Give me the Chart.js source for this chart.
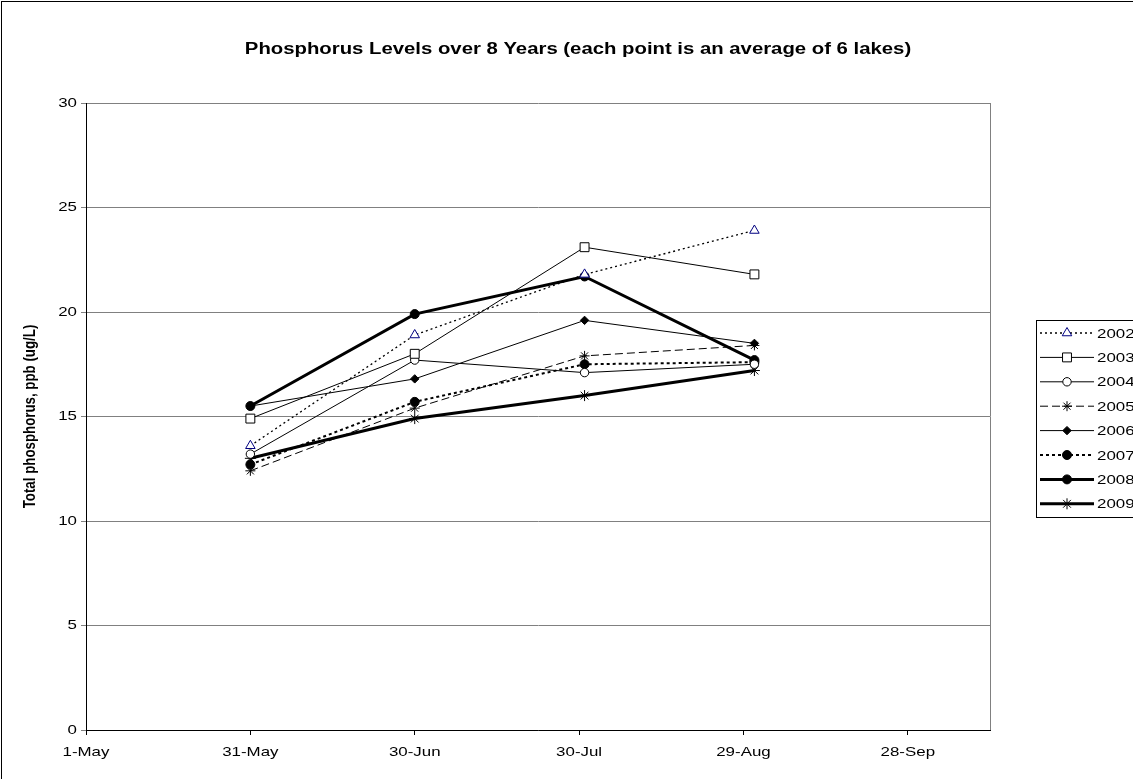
<!DOCTYPE html>
<html>
<head>
<meta charset="utf-8">
<script src="https://cdn.jsdelivr.net/npm/chart.js@4.4.1/dist/chart.umd.min.js"></script>
<style>
  html, body { margin: 0; padding: 0; background: #fff; overflow: hidden; }
  #wrap { position: absolute; left: 0; top: 0; width: 1133px; height: 779px; }
</style>
</head>
<body>
<div id="wrap"><canvas id="c" width="1133" height="779"></canvas></div>
<script>
// Text
const chartTitle = 'Phosphorus Levels over 8 Years (each point is an average of 6 lakes)';
const yAxisTitle = 'Total phosphorus, ppb (ug/L)';

// Date axis: days counted from 1 May
const tickDays = [0, 30, 60, 90, 120, 150];
const tickLabels = ['1-May', '31-May', '30-Jun', '30-Jul', '29-Aug', '28-Sep'];
const sampleDays = [30, 60, 91, 122];

// Value axis ticks
const yTicks = [0, 5, 10, 15, 20, 25, 30];

// Total phosphorus (ppb), mean of six lakes per sampling date
const years = ['2002', '2003', '2004', '2005', '2006', '2007', '2008', '2009'];
const tp2002 = [13.6, 18.9, 21.8, 23.9];
const tp2003 = [14.9, 18.0, 23.1, 21.8];
const tp2004 = [13.2, 17.7, 17.1, 17.5];
const tp2005 = [12.4, 15.4, 17.9, 18.4];
const tp2006 = [15.5, 16.8, 19.6, 18.5];
const tp2007 = [12.7, 15.7, 17.5, 17.6];
const tp2008 = [15.5, 19.9, 21.7, 17.7];
const tp2009 = [13.0, 14.9, 16.0, 17.2];

const FONT = '"Liberation Sans", Arial, sans-serif';
const TEXT_STRETCH = 1.27;   // wide lettering, stretched horizontally

const styles = {
  '2002': { dash: [2, 3], width: 1.3, point: 'triangle', radius: 5.5, stroke: '#000080', fill: '#fff' },
  '2003': { dash: [], width: 1, point: 'rect', radius: 6.3, stroke: '#000', fill: '#fff' },
  '2004': { dash: [], width: 1, point: 'circle', radius: 4.2, stroke: '#000', fill: '#fff' },
  '2005': { dash: [8, 4], width: 1, point: 'star', radius: 5, stroke: '#000', fill: '#000' },
  '2006': { dash: [], width: 1, point: 'rectRot', radius: 4.2, stroke: '#000', fill: '#000' },
  '2007': { dash: [3, 3], width: 2, point: 'circle', radius: 4.5, stroke: '#000', fill: '#000' },
  '2008': { dash: [], width: 3, point: 'circle', radius: 4.5, stroke: '#000', fill: '#000' },
  '2009': { dash: [], width: 3, point: 'star', radius: 5.5, stroke: '#000', fill: '#000' }
};
const seriesValues = [tp2002, tp2003, tp2004, tp2005, tp2006, tp2007, tp2008, tp2009];

const datasets = years.map((yr, i) => {
  const s = styles[yr];
  return {
    label: yr,
    data: sampleDays.map((d, k) => ({ x: d, y: seriesValues[i][k] })),
    borderColor: '#000',
    borderWidth: s.width,
    borderDash: s.dash,
    pointStyle: s.point,
    pointRadius: s.radius,
    pointHoverRadius: s.radius,
    pointBorderColor: s.stroke,
    pointBackgroundColor: s.fill,
    pointBorderWidth: 1,
    tension: 0,
    fill: false
  };
});

function wideText(ctx, text, x, y, font, align, rotation) {
  ctx.save();
  ctx.font = font;
  ctx.fillStyle = '#000';
  ctx.textAlign = align;
  ctx.textBaseline = 'middle';
  ctx.translate(x, y);
  ctx.scale(TEXT_STRETCH, 1);
  if (rotation) ctx.rotate(rotation);
  ctx.fillText(text, 0, 0);
  ctx.restore();
}

function drawMarker(ctx, style, radius, x, y, stroke, fill) {
  ctx.save();
  ctx.setLineDash([]);
  ctx.lineWidth = 1;
  ctx.strokeStyle = stroke;
  ctx.fillStyle = fill;
  if (Chart.helpers && Chart.helpers.drawPoint) {
    Chart.helpers.drawPoint(ctx, { pointStyle: style, radius: radius, rotation: 0, borderWidth: 1 }, x, y);
  }
  ctx.restore();
}

const decorations = {
  id: 'decorations',
  afterDraw(chart) {
    const ctx = chart.ctx;
    const a = chart.chartArea;
    const xs = chart.scales.x, ys = chart.scales.y;
    ctx.save();
    // outer chart frame
    ctx.strokeStyle = '#000';
    ctx.lineWidth = 1;
    ctx.strokeRect(1.5, 1.5, 1200, 900);
    // right edge of plot area
    ctx.strokeStyle = '#808080';
    ctx.beginPath();
    ctx.moveTo(Math.round(a.right) + 0.5, a.top);
    ctx.lineTo(Math.round(a.right) + 0.5, a.bottom);
    ctx.stroke();
    ctx.restore();

    // chart title
    wideText(ctx, chartTitle, 578, 50, 'bold 16px ' + FONT, 'center');

    // axis tick labels, placed through the scales
    const tickFont = '13.3px ' + FONT;
    tickDays.forEach((d, i) => wideText(ctx, tickLabels[i], xs.getPixelForValue(d), 752, tickFont, 'center'));
    yTicks.forEach(v => wideText(ctx, String(v), a.left - 9, ys.getPixelForValue(v), tickFont, 'right'));

    // value axis title
    wideText(ctx, yAxisTitle, 30, (a.top + a.bottom) / 2, 'bold 13.3px ' + FONT, 'center', -Math.PI / 2);

    // legend
    const lx = 1036, ly = 320, lw = 140, lh = 197, step = 24.4;
    ctx.save();
    ctx.strokeStyle = '#000';
    ctx.lineWidth = 1;
    ctx.strokeRect(lx + 0.5, ly + 0.5, lw, lh);
    chart.data.datasets.forEach((ds, i) => {
      const y = ly + 13 + i * step;
      ctx.save();
      ctx.strokeStyle = ds.borderColor;
      ctx.lineWidth = ds.borderWidth;
      ctx.setLineDash(ds.borderDash);
      ctx.beginPath();
      ctx.moveTo(lx + 4, y);
      ctx.lineTo(lx + 58, y);
      ctx.stroke();
      ctx.restore();
      drawMarker(ctx, ds.pointStyle, ds.pointRadius, lx + 31, y, ds.pointBorderColor, ds.pointBackgroundColor);
      wideText(ctx, ds.label, lx + 61, y + 1, '13.3px ' + FONT, 'left');
    });
    ctx.restore();
  }
};

new Chart(document.getElementById('c'), {
  type: 'line',
  data: { datasets },
  plugins: [decorations],
  options: {
    responsive: false,
    animation: false,
    devicePixelRatio: 1,
    layout: { padding: { top: 103, right: 143, left: 0, bottom: 0 } },
    plugins: { legend: { display: false }, title: { display: false }, tooltip: { enabled: false } },
    scales: {
      x: {
        type: 'linear',
        min: 0,
        max: 165,
        afterBuildTicks: s => { s.ticks = tickDays.map(v => ({ value: v })); },
        afterFit: s => { s.height = 49; },
        ticks: { display: false },
        grid: { drawOnChartArea: false, drawTicks: true, tickLength: 5, color: '#000' },
        border: { color: '#000', width: 1 }
      },
      y: {
        min: 0,
        max: 30,
        afterBuildTicks: s => { s.ticks = yTicks.map(v => ({ value: v })); },
        afterFit: s => { s.width = 86; },
        ticks: { display: false },
        grid: { color: '#808080', tickLength: 5, drawTicks: true },
        border: { color: '#000', width: 1 }
      }
    }
  }
});
</script>
</body>
</html>
